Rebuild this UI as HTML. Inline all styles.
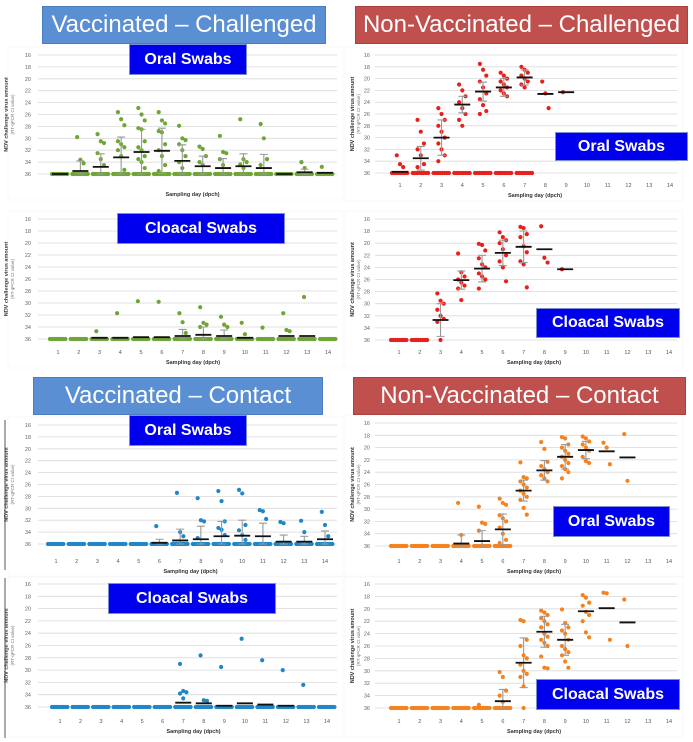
<!DOCTYPE html>
<html><head><meta charset="utf-8">
<style>
body{margin:0;background:#fff;width:693px;height:742px;overflow:hidden;position:relative;font-family:"Liberation Sans",sans-serif}
.ban{position:absolute;color:#fff;font-size:24px;text-align:center;display:flex;align-items:center;justify-content:center;box-sizing:border-box}
.blue{background:#5b8fd4;border:1px solid #4a7cc0}
.red{background:#c0504d;border:1px solid #a84240}
.box{position:absolute;background:#0000ee;color:#fff;font-weight:bold;font-size:16px;display:flex;align-items:center;justify-content:center;border:1px solid #7a8fd0;box-sizing:border-box}
svg{position:absolute;left:0;top:0}
</style></head><body>
<svg id="s" width="693" height="742" xmlns="http://www.w3.org/2000/svg"></svg>
<div class="ban blue" style="left:42px;top:6px;width:284px;height:38px">Vaccinated – Challenged</div>
<div class="ban red" style="left:355px;top:6px;width:333px;height:38px">Non-Vaccinated – Challenged</div>
<div class="ban blue" style="left:33px;top:377px;width:290px;height:38px">Vaccinated – Contact</div>
<div class="ban red" style="left:353px;top:377px;width:333px;height:38px">Non-Vaccinated – Contact</div>
<div class="box" style="left:129px;top:44px;width:118px;height:31px">Oral Swabs</div>
<div class="box" style="left:117px;top:213px;width:168px;height:31px">Cloacal Swabs</div>
<div class="box" style="left:555px;top:132px;width:133px;height:29px">Oral Swabs</div>
<div class="box" style="left:536px;top:308px;width:144px;height:30px">Cloacal Swabs</div>
<div class="box" style="left:129px;top:415px;width:118px;height:31px">Oral Swabs</div>
<div class="box" style="left:108px;top:583px;width:168px;height:31px">Cloacal Swabs</div>
<div class="box" style="left:553px;top:506px;width:117px;height:31px">Oral Swabs</div>
<div class="box" style="left:536px;top:679px;width:144px;height:31px">Cloacal Swabs</div>
<script>
const S=document.getElementById('s');let h='';
function P(c){
 const {x0,x1,yt,yb,left,col,ly,ty,ticks,d}=c;
 const gl=left?38:375, gr=left?337:677, ax=left?31:370, tx=left?8:354;
 const Y=v=>yt+(v-16)/20*(yb-yt), X=i=>x0+(i-1)*(x1-x0)/13;
 for(let v=16;v<=36;v+=2){h+=`<line x1="${gl}" x2="${gr}" y1="${Y(v)}" y2="${Y(v)}" stroke="#d9d9d9" stroke-width="0.8"/><text x="${ax}" y="${Y(v)+2}" font-size="5.5" fill="#666" text-anchor="end">${v}</text>`}
 const my=(yt+yb)/2;
 h+=`<text transform="translate(${tx},${my}) rotate(-90)" font-size="5.5" font-weight="bold" fill="#333" text-anchor="middle">NDV challenge virus amount</text><text transform="translate(${tx+6},${my}) rotate(-90)" font-size="4.5" fill="#777" text-anchor="middle">(RT-qPCR Ct value)</text>`;
 h+=`<rect x="${gl-30}" y="${yt-8}" width="${gr-gl+36}" height="${ty-yt+12}" fill="none" stroke="#f3f3f3" stroke-width="0.6"/>`;
 if(ticks)for(let i=1;i<=14;i++)h+=`<text x="${X(i)}" y="${ly}" font-size="5.5" fill="#555" text-anchor="middle">${i}</text>`;
 h+=`<text x="${(x0+x1)/2}" y="${ty}" font-size="5.5" font-weight="bold" fill="#333" text-anchor="middle">Sampling day (dpch)</text>`;
 for(let i=1;i<=14;i++){const e=d[i];if(!e)continue;const [m,et,pts,row]=e;const x=X(i);
  if(row!==0)for(let k=-8;k<=8;k+=2.2)h+=`<circle cx="${x+k}" cy="${Y(36)}" r="2.1" fill="${col}"/>`;
  pts.forEach((v,j)=>{const o=v>=35.9?0:((j%3)-1)*3.2;h+=`<circle cx="${x+o}" cy="${Y(v)}" r="2.1" fill="${col}"/>`});
  if(et!=null){const eb=Math.min(36,2*m-et);h+=`<path d="M${x} ${Y(et)}V${Y(eb)}M${x-4} ${Y(et)}h8M${x-4} ${Y(eb)}h8" stroke="#999" stroke-width="1.1" fill="none"/>`}
  if(m!=null)h+=`<line x1="${x-8}" x2="${x+8}" y1="${Y(m)}" y2="${Y(m)}" stroke="#111" stroke-width="1.8"/>`;
 }
}
const G='#6fa534',R='#e8201c',B='#1f86c8',O='#f5821f';
P({x0:60,x1:325,yt:55,yb:174,left:1,col:G,ly:187,ty:196,ticks:0,d:{1:[36,null,[]],2:[35.5,33.8,[29.8,33.6,34.2]],3:[34.8,32.6,[29.3,30.5,30.8,32.5,33.5,34.5]],4:[33.2,29.8,[25.6,26.8,27.8,30.5,31,31.5,32,33,35.3]],5:[32.3,28.5,[24.9,26,27,28.3,28.5,30.5,31.5,32,33,33.5,34,35]],6:[32.1,28.3,[25.6,27,27.5,28.8,29,31,32,33,34.5,35.5]],7:[33.8,31.1,[27.9,30,30.3,31,32,33,34,35]],8:[34.7,33,[31.4,31.8,33,34,34.5]],9:[35,33.4,[29.6,32.3,32.5,33.5,34.5]],10:[34.7,32.6,[26.8,33.5,34,34.4,35]],11:[35,32.7,[27.6,30,33.5,34.5]],12:[36,null,[]],13:[35.7,35.2,[34,35]],14:[35.8,null,[34.8]]}});
P({x0:58,x1:328,yt:219,yb:339,left:1,col:G,ly:354,ty:364,ticks:1,d:{1:[null,null,[]],2:[null,null,[]],3:[35.8,null,[34.7]],4:[35.8,null,[31.7]],5:[35.7,null,[29.7]],6:[35.7,null,[29.8]],7:[35.5,34.4,[31.7,33.2,35]],8:[35.3,34,[30.7,33.3,33.6,34]],9:[35.5,34.5,[32.3,33.6,34]],10:[35.8,null,[33.3,35.2]],11:[null,null,[34.1]],12:[35.5,null,[31.7,34.5,34.7]],13:[35.5,null,[29]],14:[null,null,[]]}});
P({x0:400,x1:670,yt:55,yb:173,left:0,col:R,ly:187,ty:197,ticks:1,d:{1:[35.8,null,[33,34.5,35]],2:[33.5,31.5,[27,29,31,32,33,34.5,35]],3:[30,27,[25,26,27,28,29,30,31,32,33,34]],4:[24.4,23,[21,22,23,24,25,26,27,28]],5:[22.2,20.6,[17.5,18.5,19.5,20.5,21.5,22.5,23.5,24.5,25.5,26]],6:[21.5,20,[19,19.5,20,20.5,21,21.5,22,22.5,23]],7:[19.8,18.5,[18,18.5,19,19.5,20,20.5,21,21.5]],8:[22.6,null,[20.5,22.5,25],0],9:[22.3,null,[22.3],0]}});
P({x0:399,x1:669,yt:219,yb:340,left:0,col:R,ly:354,ty:364,ticks:1,d:{1:[null,null,[]],2:[null,null,[]],3:[32.7,30,[28.3,29.5,30,31,32,32.5,33,36],0],4:[26.1,24.6,[21.7,24.8,25.5,26,26.5,27,27.5,29.4],0],5:[24.2,22,[20.1,20.3,21.2,22.5,23.5,24,25,25.5,26,27.5],0],6:[21.6,19.5,[18.2,19,19.5,20,21,22,23,24,26.3],0],7:[20.6,18,[17.3,17.5,18.5,19,20.5,21.5,23,23.5,27.3],0],8:[21,null,[17.2,22.4,23.2],0],9:[24.3,null,[24.3],0]}});
P({x0:56,x1:325,yt:425,yb:544,left:1,col:B,ly:563,ty:573,ticks:1,d:{1:[null,null,[]],2:[null,null,[]],3:[null,null,[]],4:[null,null,[]],5:[null,null,[]],6:[35.8,35.2,[33]],7:[35.4,33.5,[27.4,34,34.7]],8:[35.2,33,[28.3,32,32.2,35]],9:[34.7,32.2,[27.1,28.8,32.2,33.3,33.6,34.5]],10:[34.6,32,[26.9,27.5,32.8,33.7,34.5,35.3]],11:[34.7,32.5,[30.3,30.5,31.8]],12:[35.6,34.5,[32.3,32.5]],13:[35.6,34.7,[32.1,34]],14:[35.2,33.8,[30.6,32.8,34.7]]}});
P({x0:60,x1:327,yt:584,yb:707,left:1,col:B,ly:723,ty:733,ticks:1,d:{1:[null,null,[]],2:[null,null,[]],3:[null,null,[]],4:[null,null,[]],5:[null,null,[]],6:[null,null,[]],7:[35.3,null,[29,33.4,33.6,33.8,34.6]],8:[35.4,null,[27.6,34.9,35]],9:[35.8,null,[29.5]],10:[35.4,null,[24.9]],11:[35.6,null,[28.4]],12:[35.8,null,[30]],13:[null,null,[32.4]],14:[null,null,[]]}});
P({x0:399,x1:669,yt:423,yb:546,left:0,col:O,ly:563,ty:573,ticks:1,d:{1:[null,null,[]],2:[null,null,[]],3:[null,null,[]],4:[35.6,34.2,[29,34.2]],5:[35.2,33.5,[29.6,32.2,32.4,33.5]],6:[33.3,30.8,[28.3,29,29.3,31,31.5,32,33,34,35,35.5,36]],7:[27,25.3,[22.4,24.8,25,25.5,26,26.5,27,27.5,28,28.5,29.8,30.9],0],8:[23.7,22.1,[19.1,20.2,22.3,23,23.5,24,24.5,25,25.5],0],9:[21.5,19.5,[18.3,18.5,19.5,20,20.5,21,21.5,22,22.5,23,23.5,24,25],0],10:[20.4,19,[18.2,18.5,19,19.5,20,20.5,21.5,22.2,22.5],0],11:[20.6,null,[19.2,20,22.7],0],12:[21.6,null,[17.8,25.4],0]}});
P({x0:399,x1:669,yt:584,yb:708,left:0,col:O,ly:723,ty:733,ticks:1,d:{1:[null,null,[]],2:[null,null,[]],3:[null,null,[]],4:[null,null,[]],5:[null,null,[35.5]],6:[34.9,33,[30.2,31,33.2,34,35]],7:[28.7,24.7,[21.8,22,25,26,27.5,28,29,30,30.5,31,32.5,36],0],8:[23.7,21.2,[20.3,20.6,21,21.5,22,22.5,23,24,24.5,25,25.5,26,27.7,29.5,29.6],0],9:[25,22.5,[20.1,22.3,23,23.5,24,25,26,26.5,27,27.5,28.5,29.5],0],10:[20.4,null,[17.8,18.2,19,19.5,20.5,21,22,23.8,24.6],0],11:[19.9,null,[17.4,17.5,25],0],12:[22.2,null,[18.5,26],0]}});
h+=`<line x1="5" x2="5" y1="420" y2="570" stroke="#555" stroke-width="1"/><line x1="5" x2="5" y1="578" y2="738" stroke="#555" stroke-width="1"/>`;
S.innerHTML=h;
</script>
</body></html>
